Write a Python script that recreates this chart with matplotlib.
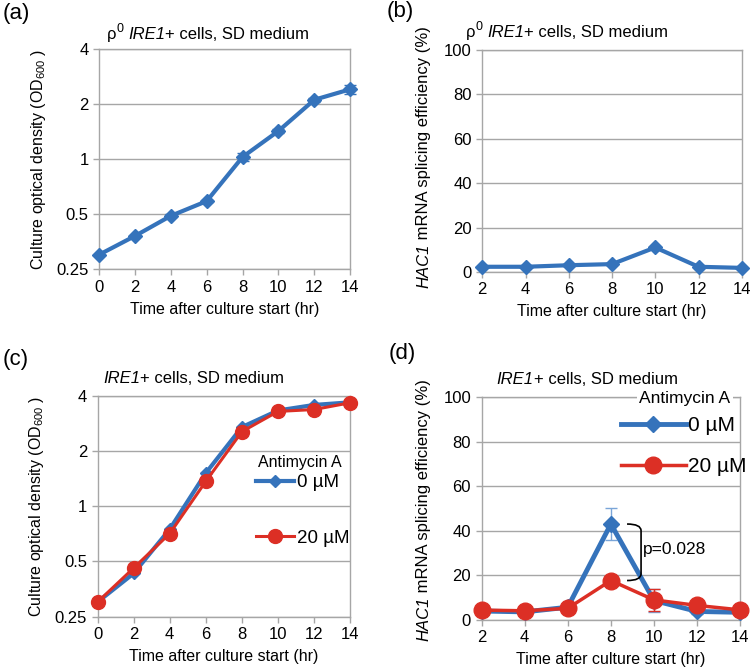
import numpy as np
import matplotlib
matplotlib.use("Agg")
import matplotlib.pyplot as plt
from matplotlib.path import Path
from matplotlib.patches import PathPatch
from matplotlib.lines import Line2D
from matplotlib.transforms import IdentityTransform

plt.rcParams["font.family"] = ["Liberation Sans", "DejaVu Sans"]
plt.rcParams["mathtext.fontset"] = "custom"
plt.rcParams["mathtext.rm"] = "Liberation Sans"
plt.rcParams["mathtext.it"] = "Liberation Sans:italic"

BLUE = "#3573bb"
RED = "#dc2f25"
GRID = "#a6a6a6"
W, H = 750, 668

# (a) rho0 growth
time_a = [0, 2, 4, 6, 8, 10, 12, 14]
od_a = [0.30, 0.38, 0.49, 0.59, 1.03, 1.43, 2.12, 2.42]
od_a_err = [0.0, 0.0, 0.01, 0.01, 0.05, 0.04, 0.06, 0.13]

# (b) rho0 splicing
time_b = [2, 4, 6, 8, 10, 12, 14]
spl_b = [2.3, 2.3, 3.0, 3.5, 11.0, 2.3, 1.8]

# (c) IRE1+ growth, 0 uM vs 20 uM antimycin A
time_c = [0, 2, 4, 6, 8, 10, 12, 14]
od_c0 = [0.30, 0.43, 0.75, 1.52, 2.71, 3.34, 3.58, 3.70]
od_c20 = [0.30, 0.46, 0.71, 1.37, 2.56, 3.30, 3.38, 3.68]

# (d) IRE1+ splicing
time_d = [2, 4, 6, 8, 10, 12, 14]
spl_d0 = [4.0, 3.6, 5.7, 43.1, 8.7, 3.8, 3.4]
spl_d0_err = [0.3, 0.3, 0.3, 7.0, 5.0, 1.0, 0.3]
spl_d20 = [4.4, 4.1, 5.2, 17.7, 9.0, 6.5, 4.5]
spl_d20_err = [0.3, 0.3, 0.3, 0.5, 5.0, 0.5, 0.3]

fig = plt.figure(figsize=(7.5, 6.68), dpi=100)
ax_a = fig.add_axes([0.132, 0.597, 0.335, 0.329])
ax_b = fig.add_axes([0.643, 0.593, 0.346, 0.332])
ax_c = fig.add_axes([0.130, 0.077, 0.337, 0.330])
ax_d = fig.add_axes([0.642, 0.072, 0.345, 0.333])
renderer = fig.canvas.get_renderer()


def text_width(s, size, style):
    # measure between two guard glyphs so leading/trailing spaces count
    t1 = fig.text(0, 0, "X" + s + "X", fontsize=size, style=style)
    t2 = fig.text(0, 0, "XX", fontsize=size, style=style)
    w = t1.get_window_extent(renderer).width - t2.get_window_extent(renderer).width
    t1.remove()
    t2.remove()
    return w


def rich(cx, cy, pieces, size, rotation=0):
    """Mixed-style text centred at (cx, cy) px; cy is the baseline (from top)."""
    cy = H - cy
    widths = [text_width(s, size * sc, st) for s, st, sc, rise in pieces]
    total = sum(widths)
    if rotation == 0:
        d, n = (1, 0), (0, 1)
    else:
        d, n = (0, 1), (-1, 0)
    pos = -total / 2
    for (s, st, sc, rise), w in zip(pieces, widths):
        x = cx + d[0] * pos + n[0] * rise
        y = cy + d[1] * pos + n[1] * rise
        fig.text(x, y, s, fontsize=size * sc, style=st, ha="left",
                 va="baseline", rotation=rotation, rotation_mode="anchor",
                 transform=IdentityTransform())
        pos += w


def style(ax):
    for s in ax.spines.values():
        s.set_color(GRID)
        s.set_linewidth(1.0)
    ax.grid(True, axis="y", color=GRID, linewidth=1.0)
    ax.set_axisbelow(True)
    ax.tick_params(axis="both", colors=GRID, labelcolor="black",
                   labelsize=12, length=4, width=1.0)
    ax.tick_params(axis="y", which="minor", length=0)


def log_axes(ax):
    ax.set_yscale("log", base=2)
    ax.set_ylim(0.25, 4)
    ax.set_yticks([0.25, 0.5, 1, 2, 4])
    ax.set_yticklabels(["0.25", "0.5", "1", "2", "4"])
    ax.set_xlim(0, 14)
    ax.set_xticks(time_a)
    ax.set_ylabel(r"Culture optical density (OD$_{600}$ )", fontsize=11.5,
                  labelpad=6)
    ax.set_xlabel("Time after culture start (hr)", fontsize=11.5, labelpad=5)


def pct_axes(ax):
    ax.set_ylim(0, 100)
    ax.set_yticks([0, 20, 40, 60, 80, 100])
    ax.set_xlim(2, 14)
    ax.set_xticks(time_b)
    ax.set_xlabel("Time after culture start (hr)", fontsize=11.5, labelpad=5)


rho_title = [("ρ", "normal", 1.0, 0), ("0", "normal", 0.75, 7),
             (" ", "normal", 1.0, 0), ("IRE1", "italic", 1.0, 0),
             ("+ cells, SD medium", "normal", 1.0, 0)]
ire_title = [("IRE1", "italic", 1.0, 0), ("+ cells, SD medium", "normal", 1.0, 0)]
hac_label = [("HAC1", "italic", 1.0, 0),
             (" mRNA splicing efficiency (%)", "normal", 1.0, 0)]

# (a)
style(ax_a)
log_axes(ax_a)
ax_a.errorbar(time_a, od_a, yerr=od_a_err, color=BLUE, lw=3, marker="D",
              ms=7.5, capsize=4, elinewidth=1, ecolor=BLUE, clip_on=False, zorder=3)
rich(208, 39, rho_title, 12)

# (b)
style(ax_b)
pct_axes(ax_b)
ax_b.plot(time_b, spl_b, color=BLUE, lw=3, marker="D", ms=7.5, clip_on=False, zorder=3)
rich(567, 37, rho_title, 12)
rich(428, 157, hac_label, 12, rotation=90)

# (c)
style(ax_c)
log_axes(ax_c)
ax_c.plot(time_c, od_c0, color=BLUE, lw=3, marker="D", ms=6.5, clip_on=False, zorder=3)
ax_c.plot(time_c, od_c20, color=RED, lw=2.2, marker="o", ms=10, clip_on=False, zorder=4)
rich(194, 383, ire_title, 12)
fig.text(300 / W, 1 - 463 / H, "Antimycin A", fontsize=11.5, ha="center",
         va="center")
handles_c = [Line2D([], [], color=BLUE, lw=3, marker="D", ms=6.5),
             Line2D([], [], color=RED, lw=2.2, marker="o", ms=10)]
ax_c.legend(handles_c, ["0 µM", "20 µM"], loc="upper left",
            bbox_to_anchor=(256 / W, 1 - 474 / H), bbox_transform=fig.transFigure,
            frameon=False, fontsize=13.5, handlelength=2.0, labelspacing=2.05,
            handletextpad=0.2, borderpad=0.0, borderaxespad=0.0)

# (d)
style(ax_d)
pct_axes(ax_d)
ax_d.errorbar(time_d, spl_d0, yerr=spl_d0_err, color=BLUE, lw=3.5, marker="D",
              ms=8, capsize=4, elinewidth=1, ecolor="#7aa5d8", clip_on=False, zorder=3)
ax_d.errorbar(time_d, spl_d20, yerr=spl_d20_err, color=RED, lw=2.5, marker="o",
              ms=12, capsize=4, elinewidth=1, ecolor=RED, clip_on=False, zorder=4)
rich(587, 384, ire_title, 12)
rich(428, 510, hac_label, 12, rotation=90)
fig.text(685 / W, 1 - 398 / H, "Antimycin A", fontsize=12.5, ha="center",
         va="center", bbox=dict(facecolor="white", edgecolor="none", pad=1.5))
handles_d = [Line2D([], [], color=BLUE, lw=3.5, marker="D", ms=8),
             Line2D([], [], color=RED, lw=2.5, marker="o", ms=12)]
ax_d.legend(handles_d, ["0 µM", "20 µM"], loc="upper left",
            bbox_to_anchor=(621 / W, 1 - 416 / H), bbox_transform=fig.transFigure,
            frameon=False, fontsize=15, handlelength=3.1, labelspacing=1.05,
            handletextpad=0.1, borderpad=0.0, borderaxespad=0.0)

# significance bracket between 8 hr points
x0, x1 = 8.75, 9.4
y_hi, y_lo = spl_d0[3], spl_d20[3]
verts = [(x0, y_hi), (x1, y_hi), (x1, y_hi - 3), (x1, y_lo + 3),
         (x1, y_lo), (x0, y_lo)]
codes = [Path.MOVETO, Path.CURVE3, Path.CURVE3, Path.LINETO,
         Path.CURVE3, Path.CURVE3]
ax_d.add_patch(PathPatch(Path(verts, codes), facecolor="none",
                         edgecolor="black", lw=1.2, zorder=5))
ax_d.text(9.5, 31.5, "p=0.028", fontsize=12.5, va="center", ha="left")

# panel letters
for lbl, (x, y) in zip(["(a)", "(b)", "(c)", "(d)"],
                       [(0.003, 0.995), (0.515, 0.998), (0.003, 0.478), (0.518, 0.487)]):
    fig.text(x, y, lbl, fontsize=16, va="top", ha="left")

fig.savefig("out.png", dpi=100)
